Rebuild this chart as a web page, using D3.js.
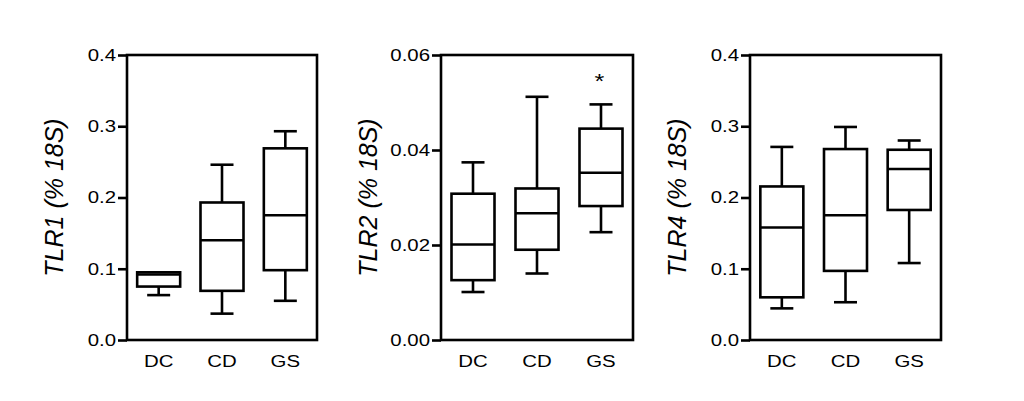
<!DOCTYPE html>
<html>
<head>
<meta charset="utf-8">
<script src="https://cdn.jsdelivr.net/npm/d3@7"></script>
<style>
  body { margin: 0; background: #fff; }
  text { font-family: "Liberation Sans", Arial, sans-serif; fill: #000; }
</style>
</head>
<body>
<svg width="1024" height="401"></svg>
<script>
var groups = ["DC", "CD", "GS"];

// each group: [min, q1, median, q3, max]
var tlr1 = [
  [0.063, 0.075, 0.092, 0.095, 0.095],
  [0.037, 0.069, 0.140, 0.193, 0.246],
  [0.055, 0.098, 0.175, 0.269, 0.293]
];
var tlr2 = [
  [0.0101, 0.0126, 0.0201, 0.0308, 0.0374],
  [0.0140, 0.0190, 0.0267, 0.0319, 0.0512],
  [0.0227, 0.0282, 0.0352, 0.0445, 0.0496]
];
var tlr4 = [
  [0.0444, 0.0599, 0.158, 0.2155, 0.271],
  [0.053, 0.097, 0.175, 0.268, 0.299],
  [0.108, 0.1825, 0.240, 0.267, 0.280]
];

var ticks1 = [0, 0.1, 0.2, 0.3, 0.4];
var ticks2 = [0, 0.02, 0.04, 0.06];
var ticks4 = [0, 0.1, 0.2, 0.3, 0.4];

var marks2 = ["", "", "*"];

var panels = [
  { gene: "TLR1", data: tlr1, ticks: ticks1, fmt: ".1f", left: 127, right: 317, marks: null },
  { gene: "TLR2", data: tlr2, ticks: ticks2, fmt: ".2f", left: 441, right: 633, marks: marks2 },
  { gene: "TLR4", data: tlr4, ticks: ticks4, fmt: ".1f", left: 750, right: 941, marks: null }
];

var plotTop = 55, plotBottom = 340;
var sx = 1.2; // text in the picture is a bit wide
var lw = 2.6;

var svg = d3.select("svg");
svg.append("rect").attr("width", 1024).attr("height", 401).attr("fill", "#fff");

panels.forEach(function(p) {
  var x = d3.scalePoint().domain(groups).range([p.left, p.right]).padding(0.5);
  var ymax = p.ticks[p.ticks.length - 1];
  var y = d3.scaleLinear().domain([0, ymax]).range([plotBottom, plotTop]);
  var g = svg.append("g");

  // frame
  g.append("rect")
    .attr("x", p.left).attr("y", plotTop)
    .attr("width", p.right - p.left).attr("height", plotBottom - plotTop)
    .attr("fill", "none").attr("stroke", "#000").attr("stroke-width", lw);

  // y axis
  var ax = g.append("g")
    .attr("transform", "translate(" + p.left + ",0)")
    .call(d3.axisLeft(y).tickValues(p.ticks).tickFormat(d3.format(p.fmt)).tickSize(9).tickPadding(2));
  ax.select(".domain").remove();
  ax.selectAll("line").attr("stroke-width", lw);
  ax.selectAll("text")
    .attr("font-size", 17)
    .attr("font-family", "Liberation Sans, Arial, sans-serif")
    .attr("fill", "#111")
    .attr("x", -11 / sx)
    .attr("transform", "scale(" + sx + ",1)");

  // category labels
  g.selectAll(".cat").data(groups).enter().append("text")
    .attr("transform", function(d) { return "translate(" + x(d) + "," + (plotBottom + 27) + ") scale(" + sx + ",1)"; })
    .attr("text-anchor", "middle")
    .attr("font-size", 17)
    .attr("fill", "#111")
    .text(function(d) { return d; });

  // title
  g.append("text")
    .attr("transform", "translate(" + (p.left - 64) + "," + ((plotTop + plotBottom) / 2) + ") rotate(-90)")
    .attr("text-anchor", "middle")
    .attr("font-size", 25)
    .attr("font-style", "italic")
    .attr("fill", "#111")
    .text(p.gene + " (% 18S)");

  // boxes
  var bw = 43, cw = 23;
  var box = g.selectAll(".box").data(p.data).enter().append("g")
    .attr("fill", "none").attr("stroke", "#000").attr("stroke-width", lw);

  box.append("line")
    .attr("x1", function(d, i) { return x(groups[i]); })
    .attr("x2", function(d, i) { return x(groups[i]); })
    .attr("y1", function(d) { return y(d[3]); })
    .attr("y2", function(d) { return y(d[4]); });
  box.append("line")
    .attr("x1", function(d, i) { return x(groups[i]); })
    .attr("x2", function(d, i) { return x(groups[i]); })
    .attr("y1", function(d) { return y(d[0]); })
    .attr("y2", function(d) { return y(d[1]); });
  box.append("line")
    .attr("x1", function(d, i) { return x(groups[i]) - cw / 2; })
    .attr("x2", function(d, i) { return x(groups[i]) + cw / 2; })
    .attr("y1", function(d) { return y(d[4]); })
    .attr("y2", function(d) { return y(d[4]); });
  box.append("line")
    .attr("x1", function(d, i) { return x(groups[i]) - cw / 2; })
    .attr("x2", function(d, i) { return x(groups[i]) + cw / 2; })
    .attr("y1", function(d) { return y(d[0]); })
    .attr("y2", function(d) { return y(d[0]); });
  box.append("rect")
    .attr("x", function(d, i) { return x(groups[i]) - bw / 2; })
    .attr("width", bw)
    .attr("y", function(d) { return y(d[3]); })
    .attr("height", function(d) { return y(d[1]) - y(d[3]); })
    .attr("fill", "#fff");
  box.append("line")
    .attr("x1", function(d, i) { return x(groups[i]) - bw / 2; })
    .attr("x2", function(d, i) { return x(groups[i]) + bw / 2; })
    .attr("y1", function(d) { return y(d[2]); })
    .attr("y2", function(d) { return y(d[2]); });

  // significance marks
  if (p.marks) {
    g.selectAll(".mark").data(p.data).enter().append("text")
      .attr("transform", function(d, i) { return "translate(" + (x(groups[i]) - 1.5) + "," + (y(d[4]) - 16) + ") scale(" + sx + ",1)"; })
      .attr("text-anchor", "middle")
      .attr("font-size", 21)
      .text(function(d, i) { return p.marks[i]; });
  }
});
</script>
</body>
</html>
